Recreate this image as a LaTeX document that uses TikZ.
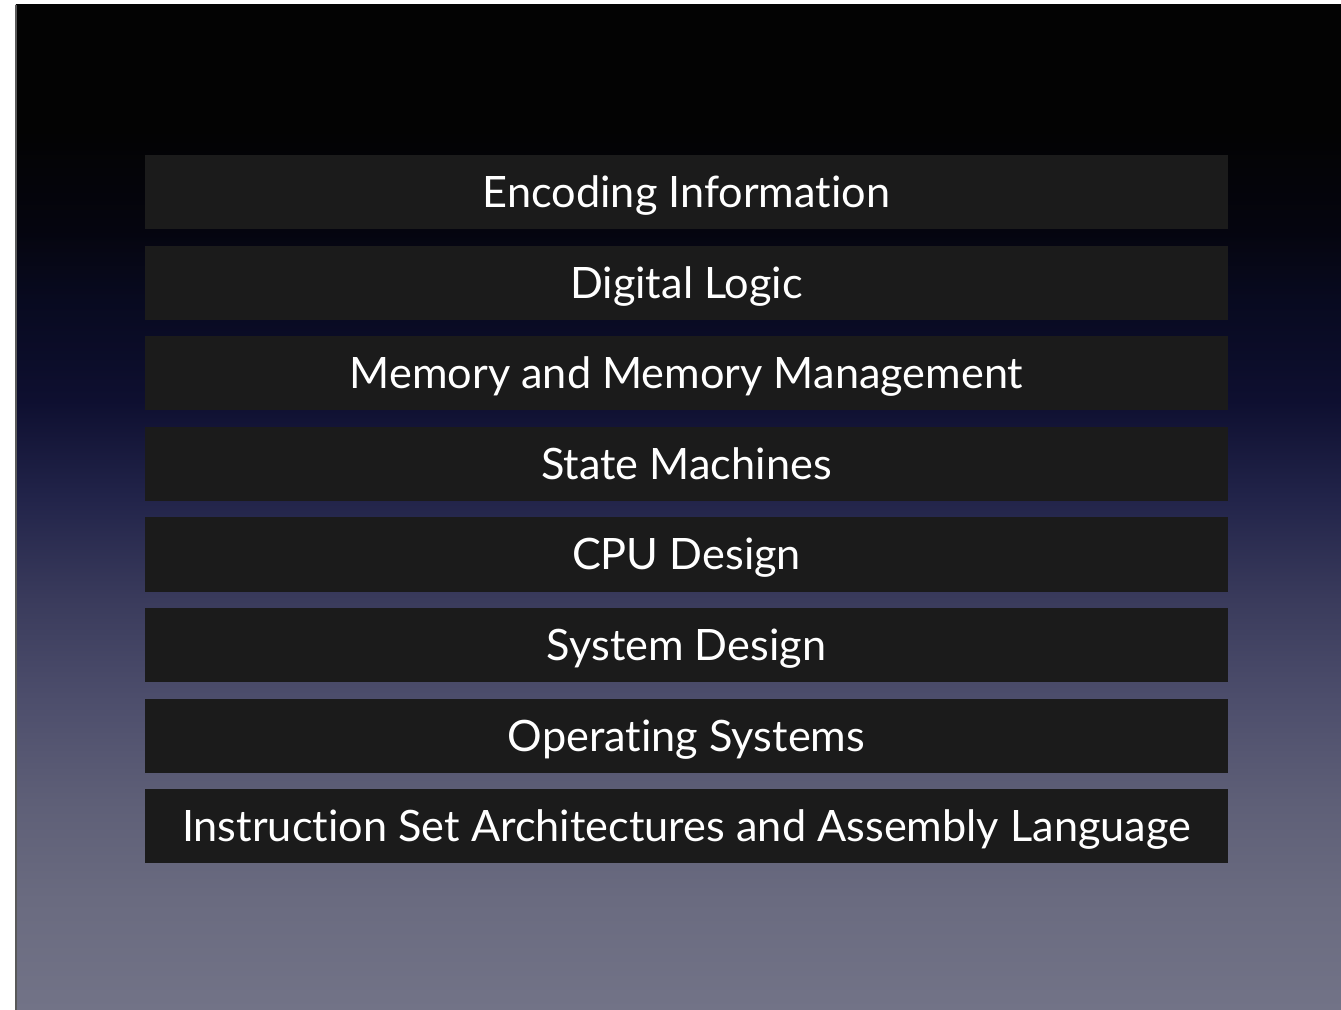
\documentclass[tikz,border=0pt]{standalone}
\usepackage{fontspec}
\setmainfont{Lato}[Ligatures={NoCommon}]
\usetikzlibrary{positioning}

\definecolor{bgA}{HTML}{030303}
\definecolor{bgB}{HTML}{05050F}
\definecolor{bgC}{HTML}{080A20}
\definecolor{bgD}{HTML}{0E0F30}
\definecolor{bgE}{HTML}{22244A}
\definecolor{bgF}{HTML}{3A3B5C}
\definecolor{bgG}{HTML}{4D4E6C}
\definecolor{bgH}{HTML}{5E5F77}
\definecolor{bgI}{HTML}{6A6B80}
\definecolor{bgJ}{HTML}{727387}
\definecolor{barfill}{HTML}{1B1B1B}

% slide backdrop: black at the top, fading into a greyish lavender
\pgfdeclareverticalshading{slidebg}{100bp}{
  color(0bp)=(bgJ);
  color(25bp)=(bgJ);
  color(30.5bp)=(bgI);
  color(35.4bp)=(bgH);
  color(40.4bp)=(bgG);
  color(45.4bp)=(bgF);
  color(50.4bp)=(bgE);
  color(55.3bp)=(bgD);
  color(60.3bp)=(bgC);
  color(63.8bp)=(bgB);
  color(68.8bp)=(bgA);
  color(75bp)=(bgA);
  color(100bp)=(bgA)
}

\begin{document}
\begin{tikzpicture}[x=0.01cm, y=-0.01cm]

\tikzset{
  topic/.style={
    fill=barfill,
    text=white,
    minimum width=10.83cm,
    minimum height=0.74cm,
    inner sep=0pt,
    outer sep=0pt,
    text height=8.8pt,
    text depth=0pt,
    font=\fontsize{12.3}{14}\selectfont
  },
  node distance=0.1657cm
}

% Frame
\useasboundingbox (0,0) rectangle (1341,1010);
\fill[white] (0,0) rectangle (1341,1010);
\shade[shading=slidebg] (16,5) rectangle (1341,1010);
\draw[line width=0.5pt, black!65] (16,5) -- (16,1010);

% Nodes topics
\node[topic] (enc) at (686.5,192) {Encoding Information};
\node[topic, below=of enc] (logic) {Digital Logic};
\node[topic, below=of logic] (mem) {Memory and Memory Management};
\node[topic, below=of mem] (fsm) {State Machines};
\node[topic, below=of fsm] (cpu) {CPU Design};
\node[topic, below=of cpu] (sys) {System Design};
\node[topic, below=of sys] (os) {Operating Systems};
\node[topic, below=of os] (isa) {Instruction Set Architectures and Assembly Language};

\end{tikzpicture}
\end{document}
